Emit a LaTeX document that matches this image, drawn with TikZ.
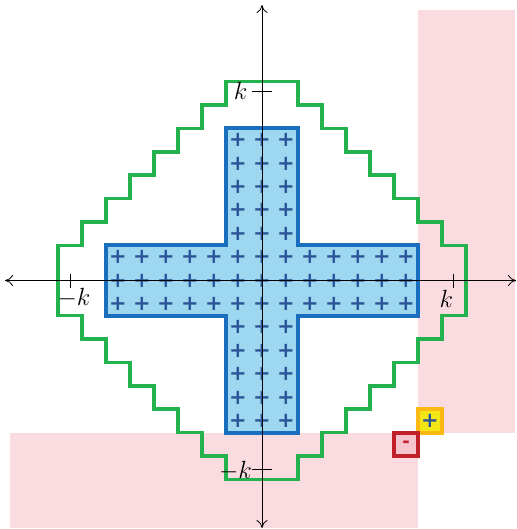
\documentclass[tikz,border=0pt]{standalone}
\usepackage{fontspec}
\newfontfamily\plusfont{DejaVu Sans}
\usetikzlibrary{arrows.meta}
\definecolor{pinkbg}{RGB}{250,219,224}
\definecolor{stairgreen}{RGB}{35,178,78}
\definecolor{crossblue}{RGB}{26,110,190}
\definecolor{crossfill}{RGB}{157,216,240}
\definecolor{plusblue}{RGB}{44,86,152}
\definecolor{boxorange}{RGB}{253,185,19}
\definecolor{boxyellow}{RGB}{242,230,20}
\definecolor{boxred}{RGB}{193,32,43}
\definecolor{boxpink}{RGB}{247,197,205}
\tikzset{
  bgzone/.style={fill=pinkbg, draw=none},
  crossshape/.style={draw=crossblue, fill=crossfill, line width=4pt, line join=miter},
  pluslabel/.style={text=plusblue, inner sep=0pt, font=\plusfont\bfseries\fontsize{21}{21}\selectfont},
  stair/.style={draw=stairgreen, line width=3.6pt, line join=miter},
  posbox/.style={draw=boxorange, fill=boxyellow, line width=4pt, minimum width=24pt, minimum height=23.4pt, inner sep=0pt, text=plusblue, font=\plusfont\bfseries\fontsize{21}{21}\selectfont},
  negbox/.style={draw=boxred, fill=boxpink, line width=4pt, minimum width=24pt, minimum height=23.4pt, inner sep=0pt, text=boxred, font=\plusfont\bfseries\fontsize{18}{18}\selectfont},
  axis/.style={draw=black, line width=0.8pt, {To[length=8pt,width=11pt]}-{To[length=8pt,width=11pt]}},
  tick/.style={draw=black, line width=0.8pt},
  klabel/.style={inner sep=0pt, anchor=base, font=\fontsize{24}{28}\selectfont}
}
\begin{document}
\begin{tikzpicture}[x=1pt,y=-1pt]
\useasboundingbox (0,0) rectangle (516,529);
% pink zones
\fill[bgzone] (418,10) rectangle (515,433);
\fill[bgzone] (10,433) rectangle (418,528);
\begin{scope}[shift={(262,280.5)}, x=24pt, y=23.4pt]
  % cross
  \path[crossshape] (-6.5,1.5) -- (-1.5,1.5) -- (-1.5,6.5) -- (1.5,6.5) -- (1.5,1.5) -- (6.5,1.5) -- (6.5,-1.5) -- (1.5,-1.5) -- (1.5,-6.5) -- (-1.5,-6.5) -- (-1.5,-1.5) -- (-6.5,-1.5) -- cycle;
  % plus marks
  \foreach \i in {-6,...,6} {
    \foreach \j in {-1,0,1} {
      \node[pluslabel] (h\i\j) at (\i,\j) {+};
    }
  }
  \foreach \j in {-6,...,-2,2,3,...,6} {
    \foreach \i in {-1,0,1} {
      \node[pluslabel] (v\i\j) at (\i,\j) {+};
    }
  }
  % staircase
  \path[stair] (-1.5,8.5) -- (1.5,8.5) -- (1.5,7.5) -- (2.5,7.5) -- (2.5,6.5) -- (3.5,6.5) -- (3.5,5.5) -- (4.5,5.5) -- (4.5,4.5) -- (5.5,4.5) -- (5.5,3.5) -- (6.5,3.5) -- (6.5,2.5) -- (7.5,2.5) -- (7.5,1.5) -- (8.5,1.5) -- (8.5,-1.5) -- (7.5,-1.5) -- (7.5,-2.5) -- (6.5,-2.5) -- (6.5,-3.5) -- (5.5,-3.5) -- (5.5,-4.5) -- (4.5,-4.5) -- (4.5,-5.5) -- (3.5,-5.5) -- (3.5,-6.5) -- (2.5,-6.5) -- (2.5,-7.5) -- (1.5,-7.5) -- (1.5,-8.5) -- (-1.5,-8.5) -- (-1.5,-7.5) -- (-2.5,-7.5) -- (-2.5,-6.5) -- (-3.5,-6.5) -- (-3.5,-5.5) -- (-4.5,-5.5) -- (-4.5,-4.5) -- (-5.5,-4.5) -- (-5.5,-3.5) -- (-6.5,-3.5) -- (-6.5,-2.5) -- (-7.5,-2.5) -- (-7.5,-1.5) -- (-8.5,-1.5) -- (-8.5,1.5) -- (-7.5,1.5) -- (-7.5,2.5) -- (-6.5,2.5) -- (-6.5,3.5) -- (-5.5,3.5) -- (-5.5,4.5) -- (-4.5,4.5) -- (-4.5,5.5) -- (-3.5,5.5) -- (-3.5,6.5) -- (-2.5,6.5) -- (-2.5,7.5) -- (-1.5,7.5) -- cycle;
  % legend boxes
  \node[posbox] (pos) at (7,-6) {+};
  \node[negbox] (neg) at (6,-7) {-};
\end{scope}
% axes
\coordinate (xl) at (5,280.5);
\coordinate (xr) at (516,280.5);
\coordinate (yt) at (262,5);
\coordinate (yb) at (262,528);
\path[axis] (xl) -- (xr);
\path[axis] (yb) -- (yt);
% ticks
\coordinate (tl1) at (70,273.5); \coordinate (tl2) at (70,287.5);
\coordinate (tr1) at (453,273.5); \coordinate (tr2) at (453,287.5);
\coordinate (tt1) at (252,91); \coordinate (tt2) at (272,91);
\coordinate (tb1) at (252,469); \coordinate (tb2) at (272,469);
\path[tick] (tl1) -- (tl2);
\path[tick] (tr1) -- (tr2);
\path[tick] (tt1) -- (tt2);
\path[tick] (tb1) -- (tb2);
% labels
\node[klabel] (ktop) at (240.5,99.3) {$k$};
\node[klabel] (kleft) at (74,305) {$-k$};
\node[klabel] (kright) at (446.3,307) {$k$};
\node[klabel] (kbot) at (235.5,478.7) {$-k$};
\end{tikzpicture}
\end{document}
